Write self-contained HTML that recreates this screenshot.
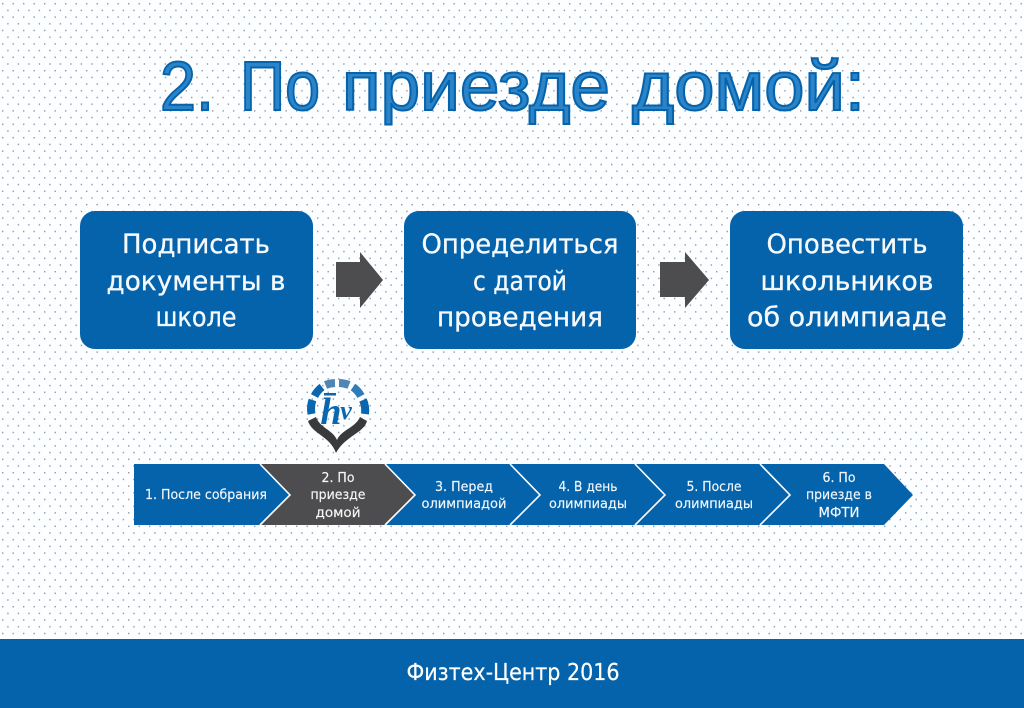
<!DOCTYPE html>
<html><head><meta charset="utf-8"><style>
html,body{margin:0;padding:0;background:#fff;width:1024px;height:708px;overflow:hidden}
svg{display:block}
text{font-family:"DejaVu Sans","Liberation Sans",sans-serif}
</style></head><body>
<svg xmlns="http://www.w3.org/2000/svg" width="1024" height="708" viewBox="0 0 1024 708">
<defs><pattern id="d" width="10.5" height="13.4" patternUnits="userSpaceOnUse">
<rect x="2" y="3" width="1.4" height="1.4" fill="#8b96ab"/><rect x="7.2" y="9.7" width="1.4" height="1.4" fill="#8b96ab"/>
</pattern></defs>
<rect width="1024" height="708" fill="#fcfeff"/>
<rect width="1024" height="708" fill="url(#d)"/>
<g font-size="70" fill="#2b84c8" stroke="#0563ac" stroke-width="2">
<text x="160" y="110" textLength="54" lengthAdjust="spacingAndGlyphs" style="font-family:'Liberation Sans',sans-serif">2.</text>
<text x="240" y="110" textLength="80" lengthAdjust="spacingAndGlyphs" style="font-family:'Liberation Sans',sans-serif">По</text>
<text x="342" y="110" textLength="268" lengthAdjust="spacingAndGlyphs" style="font-family:'Liberation Sans',sans-serif">приезде</text>
<text x="632" y="110" textLength="233" lengthAdjust="spacingAndGlyphs" style="font-family:'Liberation Sans',sans-serif">домой:</text>
</g>
<g fill="#0563ac">
<rect x="80" y="211" width="233" height="138" rx="15"/>
<rect x="404" y="211" width="232" height="138" rx="15"/>
<rect x="730" y="211" width="233" height="138" rx="15"/>
</g>
<g fill="#fff" stroke="#fff" stroke-width=".3" font-size="27" text-anchor="middle" fill-opacity=".96">
<text x="196" y="253" textLength="148" lengthAdjust="spacingAndGlyphs">Подписать</text>
<text x="196" y="290" textLength="179" lengthAdjust="spacingAndGlyphs">документы в</text>
<text x="196" y="326" textLength="81" lengthAdjust="spacingAndGlyphs">школе</text>
<text x="520" y="253" textLength="197" lengthAdjust="spacingAndGlyphs">Определиться</text>
<text x="520" y="290" textLength="94" lengthAdjust="spacingAndGlyphs">с датой</text>
<text x="520" y="326" textLength="166" lengthAdjust="spacingAndGlyphs">проведения</text>
<text x="847" y="253" textLength="161" lengthAdjust="spacingAndGlyphs">Оповестить</text>
<text x="847" y="290" textLength="173" lengthAdjust="spacingAndGlyphs">школьников</text>
<text x="847" y="326" textLength="200" lengthAdjust="spacingAndGlyphs">об олимпиаде</text>
</g>
<g fill="#4d4d4f">
<polygon points="336,262 360,262 360,252 383,280 360,308 360,297 336,297"/>
<polygon points="660,262 685,262 685,252 709,280 685,308 685,297 660,297"/>
</g>
<!-- logo -->
<g fill="none" stroke="#0a66ae" stroke-width="8">
<path d="M311.500 414 A27 27 0 0 1 312.500 400"/>
<path d="M314.500 396 A27 27 0 0 1 322 387"/>
<path d="M325.500 385 A27 27 0 0 1 335 383" stroke="#4f86b4"/>
<path d="M339 383 A27 27 0 0 1 349 385" stroke="#4f86b4"/>
<path d="M353 387 A27 27 0 0 1 361 396" stroke="#2f7cb8"/>
<path d="M363 400 A27 27 0 0 1 365 414"/>
</g>
<path d="M308 421 L316 417 C320 428 333 430 337 440 C341 430 355 428 360 417 L367 421 C364 433 345 436 336 453 C330 436 312 434 308 421 Z" fill="#3a3a3c"/>
<text x="331" y="424" text-anchor="middle" font-size="38" font-style="italic" font-weight="bold" fill="#0a66ae" style="font-family:'Liberation Serif',serif">h</text>
<text x="346" y="419" text-anchor="middle" font-size="26" font-style="italic" font-weight="bold" fill="#0a66ae" style="font-family:'Liberation Serif',serif">v</text>
<rect x="324" y="393" width="12" height="2.500" fill="#0a66ae"/>
<!-- chevrons -->
<polygon points="134,464 884,464 913,495 884,525 134,525" fill="#0563ac"/>
<polygon points="260,464 385,464 415,495 385,525 260,525 290,495" fill="#4d4d4f"/>
<g fill="none" stroke="#fff" stroke-width="1.6">
<polyline points="260,464 290,495 260,525"/>
<polyline points="385,464 415,495 385,525"/>
<polyline points="510,464 540,495 510,525"/>
<polyline points="635,464 665,495 635,525"/>
<polyline points="760,464 790,495 760,525"/>
</g>
<g fill="#fff" stroke="#fff" stroke-width=".15" font-size="13.5" text-anchor="middle" fill-opacity=".95">
<text x="206" y="499" textLength="122" lengthAdjust="spacingAndGlyphs">1. После собрания</text>
<text x="338" y="482" textLength="33" lengthAdjust="spacingAndGlyphs">2. По</text>
<text x="338" y="499" textLength="55" lengthAdjust="spacingAndGlyphs">приезде</text>
<text x="338" y="517" textLength="45" lengthAdjust="spacingAndGlyphs">домой</text>
<text x="464" y="491" textLength="58" lengthAdjust="spacingAndGlyphs">3. Перед</text>
<text x="464" y="508" textLength="85" lengthAdjust="spacingAndGlyphs">олимпиадой</text>
<text x="588" y="491" textLength="59" lengthAdjust="spacingAndGlyphs">4. В день</text>
<text x="588" y="508" textLength="78" lengthAdjust="spacingAndGlyphs">олимпиады</text>
<text x="714" y="491" textLength="55" lengthAdjust="spacingAndGlyphs">5. После</text>
<text x="714" y="508" textLength="78" lengthAdjust="spacingAndGlyphs">олимпиады</text>
<text x="839" y="482" textLength="33" lengthAdjust="spacingAndGlyphs">6. По</text>
<text x="839" y="499" textLength="66" lengthAdjust="spacingAndGlyphs">приезде в</text>
<text x="839" y="517" textLength="41" lengthAdjust="spacingAndGlyphs">МФТИ</text>
</g>
<rect x="0" y="639" width="1024" height="69" fill="#0563ac"/>
<text x="513" y="680" font-size="23" stroke="#fff" stroke-width=".2" text-anchor="middle" fill="#fff" textLength="213" lengthAdjust="spacingAndGlyphs">Физтех-Центр 2016</text>
</svg>
</body></html>
